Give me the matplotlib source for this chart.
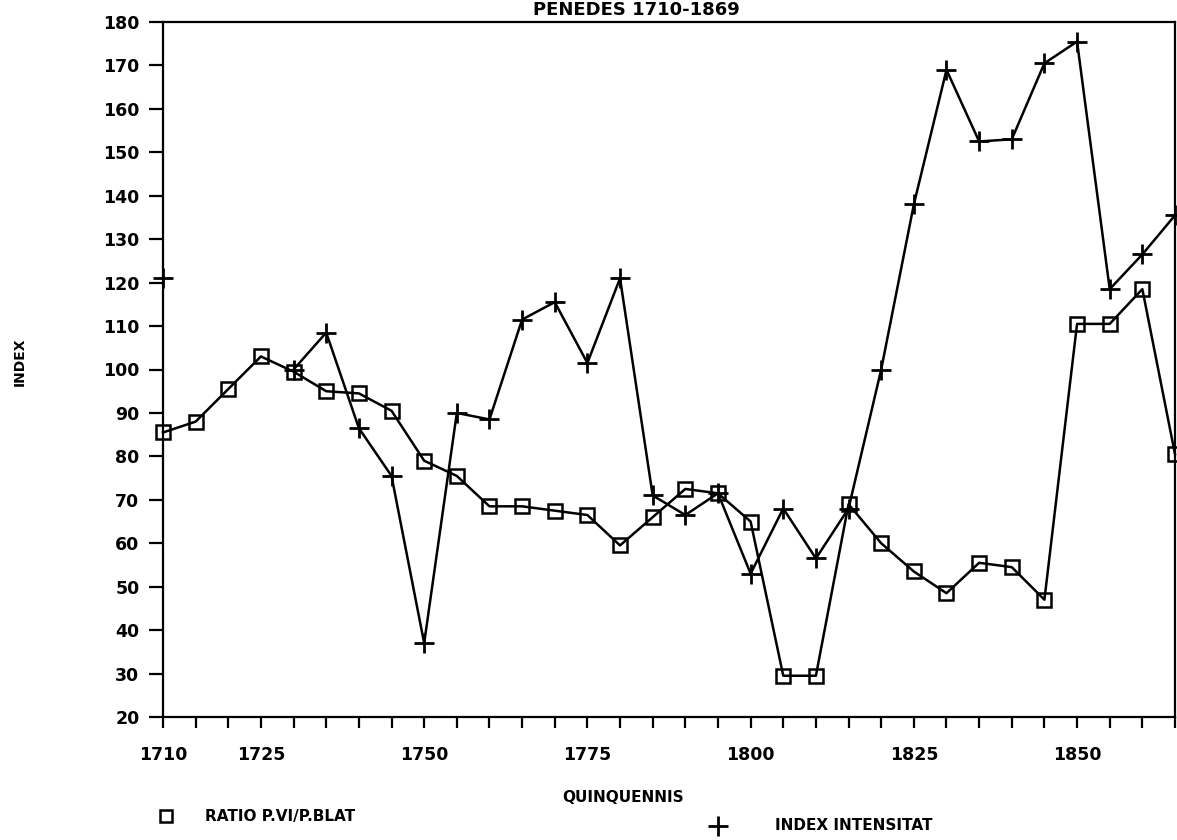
import numpy as np
import matplotlib
matplotlib.use("Agg")
import matplotlib.pyplot as plt

# Quinquennia (first year of each five-year period)
years = [1710, 1715, 1720, 1725, 1730, 1735, 1740, 1745, 1750, 1755,
         1760, 1765, 1770, 1775, 1780, 1785, 1790, 1795, 1800, 1805,
         1810, 1815, 1820, 1825, 1830, 1835, 1840, 1845, 1850, 1855,
         1860, 1865]

# Wine price / wheat price ratio (index)
ratio_vi_blat = [85.5, 88, 95.5, 103, 99.5, 95, 94.5, 90.5, 79, 75.5,
                 68.5, 68.5, 67.5, 66.5, 59.5, 66, 72.5, 71.5, 65, 29.5,
                 29.5, 69, 60, 53.5, 48.5, 55.5, 54.5, 47, 110.5, 110.5,
                 118.5, 80.5]

# Intensity index (no data for 1715-1725)
index_intensitat = [121, np.nan, np.nan, np.nan, 100, 108.5, 86.5, 75.5, 37, 90,
                    88.5, 111.5, 115.5, 101.5, 121, 71, 66.5, 71.5, 53, 68,
                    56.5, 68, 100, 138, 169, 152.5, 153, 170.5, 175.5, 118.5,
                    126.5, 135.5]

xtick_labels = {1710: "1710", 1725: "1725", 1750: "1750", 1775: "1775",
                1800: "1800", 1825: "1825", 1850: "1850"}
yticks = [20, 30, 40, 50, 60, 70, 80, 90, 100, 110, 120, 130, 140, 150,
          160, 170, 180]

title = "PENEDES 1710-1869"
xlabel = "QUINQUENNIS"
ylabel = "INDEX"
legend_ratio = "RATIO P.VI/P.BLAT"
legend_index = "INDEX INTENSITAT"

W, H = 1177, 840
plt.rcParams['font.family'] = ['DejaVu Sans']
fig = plt.figure(figsize=(W / 100, H / 100), dpi=100)
fig.patch.set_facecolor("white")


def fx(px):
    return px / W


def fy(py):
    return 1 - py / H


left, right, top, bottom = 163, 1175, 22, 717
ax = fig.add_axes([fx(left), fy(bottom), fx(right - left), (bottom - top) / H])

ax.plot(years, ratio_vi_blat, color="black", lw=1.8, marker="s", ms=10,
        mfc="none", mec="black", mew=1.8, clip_on=False, zorder=3)
ax.plot(years, index_intensitat, color="black", lw=1.8, marker="+", ms=14,
        mew=2.0, clip_on=False, zorder=3)

ax.set_xlim(1710, 1865)
ax.set_ylim(20, 180)

ax.set_xticks(years)
ax.set_xticklabels([xtick_labels.get(y, "") for y in years])
ax.set_yticks(yticks)
ax.set_yticklabels([str(v) for v in yticks])

for s in ax.spines.values():
    s.set_linewidth(1.6)
    s.set_color("black")

ax.tick_params(axis="x", direction="out", length=8, width=1.6, pad=13,
               labelsize=12.5)
ax.tick_params(axis="y", direction="out", length=10, width=1.6, pad=7,
               labelsize=12.5)
for lab in ax.get_xticklabels() + ax.get_yticklabels():
    lab.set_fontweight("bold")

# Title along the top edge of the sheet
fig.text(fx(636), fy(15), title, ha="center", va="baseline", fontsize=13,
         fontweight="bold")

fig.text(fx(623), fy(797), xlabel, ha="center", va="center", fontsize=11,
         fontweight="bold")
fig.text(fx(20), fy(362), ylabel, ha="center", va="center", fontsize=10,
         fontweight="bold", rotation=90)

# Legend keys drawn below the axes
fig.lines.append(plt.Line2D([fx(166)], [fy(816)], transform=fig.transFigure,
                            marker="s", ms=8, mfc="none", mec="black", mew=1.8))
fig.text(fx(205), fy(816), legend_ratio, ha="left", va="center", fontsize=11,
         fontweight="bold")
fig.lines.append(plt.Line2D([fx(718)], [fy(826)], transform=fig.transFigure,
                            marker="+", ms=14, mec="black", mew=2.0))
fig.text(fx(775), fy(826), legend_index, ha="left", va="center", fontsize=11,
         fontweight="bold")

fig.savefig("out.png", dpi=100, facecolor="white")
